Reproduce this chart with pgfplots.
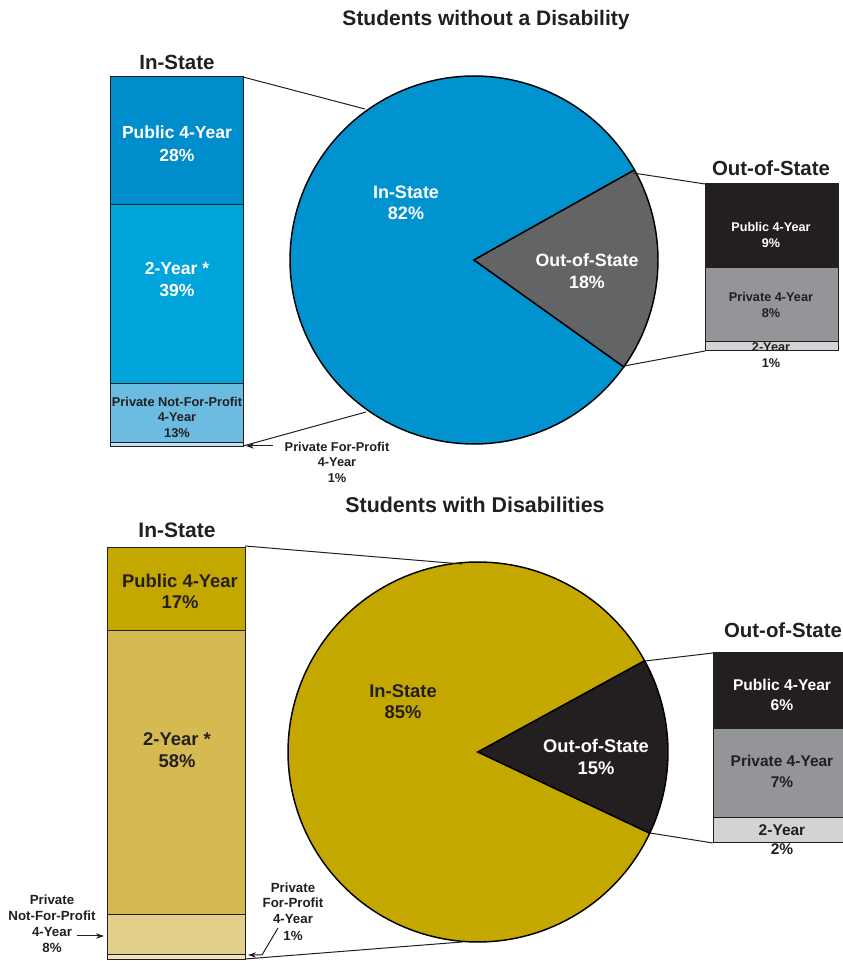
\documentclass[border=0pt]{standalone}
\usepackage{pgfplots}
\pgfplotsset{compat=1.18}
\usepackage{fontspec}
\setmainfont{Liberation Sans}
\usetikzlibrary{arrows.meta}

\definecolor{pieblue}{RGB}{0,147,208}
\definecolor{bpub}{RGB}{0,141,204}
\definecolor{btwo}{RGB}{0,165,219}
\definecolor{bpnfp}{RGB}{108,188,226}
\definecolor{bpfp}{RGB}{190,225,243}
\definecolor{piegray}{RGB}{99,100,102}
\definecolor{dk}{RGB}{35,31,32}
\definecolor{mgray}{RGB}{147,149,152}
\definecolor{lgray}{RGB}{209,211,212}
\definecolor{gold}{RGB}{196,168,0}
\definecolor{gtwo}{RGB}{212,186,80}
\definecolor{gpnfp}{RGB}{226,208,138}
\definecolor{gpfp}{RGB}{240,228,190}

% data (percent)
\def\TopIn{82}\def\TopOut{18}\def\TopStart{-35.5}
\def\BotIn{85}\def\BotOut{15}\def\BotStart{-25.3}

\pgfplotsset{
  barax/.style={scale only axis, hide axis, xmin=0, xmax=1, ymin=0,
    ybar stacked, bar width=1, clip=false},
  pieax/.style={scale only axis, hide axis, xmin=-1, xmax=1, ymin=-1, ymax=1, clip=false},
  seg/.style={fill=#1, draw=dk, line width=0.75pt},
}

\newcommand\lab[5]{%
  \pgfmathsetmacro\fs{0.75*#3}%
  \pgfmathsetmacro\by{961-#2-0.358*#3}%
  \node[anchor=base, inner sep=0pt, text=#4, font=\fontsize{\fs}{\fs}\selectfont\bfseries] at (#1,\by) {#5};}

\begin{document}
\begin{tikzpicture}[x=0.75pt, y=0.75pt]
\useasboundingbox (0,0) rectangle (843,961);
\clip (0,0) rectangle (843,961);

% ---------- TOP: Students without a Disability ----------
\pgfmathsetmacro\aA{\TopStart}
\pgfmathsetmacro\aB{\TopStart+3.6*\TopOut}
\pgfmathsetmacro\aC{\TopStart+360}
\begin{axis}[pieax, width=276pt, height=276pt, at={(217.5pt,387.75pt)}, anchor=south west]
\addplot[fill=pieblue, draw=black, line width=1.1pt, line join=miter, domain=\aB:\aC, samples=150, variable=\t]
  ({cos(\t)},{sin(\t)}) -- (0,0) -- cycle;
\addplot[fill=piegray, draw=black, line width=1.1pt, line join=miter, domain=\aA:\aB, samples=50, variable=\t]
  ({cos(\t)},{sin(\t)}) -- (0,0) -- cycle;
\end{axis}

\begin{axis}[barax, ymax=81, width=99.75pt, height=277.5pt, at={(82.5pt,385.5pt)}, anchor=south west]
\addplot[seg=bpfp] coordinates {(0.5,1)};
\addplot[seg=bpnfp] coordinates {(0.5,13)};
\addplot[seg=btwo] coordinates {(0.5,39)};
\addplot[seg=bpub] coordinates {(0.5,28)};
\end{axis}

\begin{axis}[barax, ymax=18, width=99.75pt, height=125.25pt, at={(528.75pt,457.5pt)}, anchor=south west]
\addplot[seg=lgray] coordinates {(0.5,1)};
\addplot[seg=mgray] coordinates {(0.5,8)};
\addplot[seg=dk] coordinates {(0.5,9)};
\end{axis}

% connectors
\draw[dk, line width=0.75pt] (243,961-77) -- (365,961-109);
\draw[dk, line width=0.75pt] (243,961-446) -- (366,961-412);
\draw[dk, line width=0.75pt] (633,961-173) -- (705,961-184);
\draw[dk, line width=0.75pt] (624,961-366) -- (705,961-351);
\draw[dk, line width=0.75pt, -{Stealth[length=6pt,width=4pt]}] (273,961-446) -- (246,961-446);

\lab{486}{18}{21}{dk}{Students without a Disability}
\lab{177}{62}{20.5}{dk}{In-State}
\lab{771}{168}{20.4}{dk}{Out-of-State}
\lab{177}{132}{17.5}{white}{Public 4-Year}
\lab{177}{155}{17.5}{white}{28\%}
\lab{177}{268}{17.5}{white}{2-Year *}
\lab{177}{290}{17.5}{white}{39\%}
\lab{177}{402}{12.8}{dk}{Private Not-For-Profit}
\lab{177}{417}{12.8}{dk}{4-Year}
\lab{177}{433}{12.8}{dk}{13\%}
\lab{337}{447}{12.8}{dk}{Private For-Profit}
\lab{337}{462}{12.8}{dk}{4-Year}
\lab{337}{478}{12.8}{dk}{1\%}
\lab{406}{192}{18}{white}{In-State}
\lab{406}{213}{18}{white}{82\%}
\lab{587}{260}{17.8}{white}{Out-of-State}
\lab{587}{282}{17.8}{white}{18\%}
\lab{771}{227}{12.6}{white}{Public 4-Year}
\lab{771}{243}{12.6}{white}{9\%}
\lab{771}{297}{12.7}{dk}{Private 4-Year}
\lab{771}{313}{12.7}{dk}{8\%}
\lab{771}{347}{12.7}{dk}{2-Year}
\lab{771}{363}{12.7}{dk}{1\%}

% ---------- BOTTOM: Students with Disabilities ----------
\pgfmathsetmacro\bA{\BotStart}
\pgfmathsetmacro\bB{\BotStart+3.6*\BotOut}
\pgfmathsetmacro\bC{\BotStart+360}
\begin{axis}[pieax, width=285pt, height=285pt, at={(216pt,14.25pt)}, anchor=south west]
\addplot[fill=gold, draw=black, line width=1.1pt, line join=miter, domain=\bB:\bC, samples=150, variable=\t]
  ({cos(\t)},{sin(\t)}) -- (0,0) -- cycle;
\addplot[fill=dk, draw=black, line width=1.1pt, line join=miter, domain=\bA:\bB, samples=50, variable=\t]
  ({cos(\t)},{sin(\t)}) -- (0,0) -- cycle;
\end{axis}

\begin{axis}[barax, ymax=84, width=103.5pt, height=309pt, at={(80.25pt,1.5pt)}, anchor=south west]
\addplot[seg=gpfp] coordinates {(0.5,1)};
\addplot[seg=gpnfp] coordinates {(0.5,8)};
\addplot[seg=gtwo] coordinates {(0.5,58)};
\addplot[seg=gold] coordinates {(0.5,17)};
\end{axis}

\begin{axis}[barax, ymax=15, width=103.5pt, height=143.25pt, at={(534.75pt,88.5pt)}, anchor=south west]
\addplot[seg=lgray] coordinates {(0.5,2)};
\addplot[seg=mgray] coordinates {(0.5,7)};
\addplot[seg=dk] coordinates {(0.5,6)};
\end{axis}

\draw[dk, line width=0.75pt] (245,961-546) -- (462,961-564);
\draw[dk, line width=0.75pt] (245,961-959) -- (462,961-942);
\draw[dk, line width=0.75pt] (645,961-661) -- (713,961-653);
\draw[dk, line width=0.75pt] (650,961-833) -- (713,961-843);
\draw[dk, line width=0.75pt, -{Stealth[length=6pt,width=4pt]}] (77,961-936) -- (104,961-936);
\draw[dk, line width=0.75pt, -{Stealth[length=6pt,width=4pt]}] (278,961-928) -- (262,961-955) -- (248,961-955);

\lab{475}{505}{21.4}{dk}{Students with Disabilities}
\lab{177}{530}{21}{dk}{In-State}
\lab{783}{630}{20.4}{dk}{Out-of-State}
\lab{180}{581}{18.4}{dk}{Public 4-Year}
\lab{180}{602}{18.4}{dk}{17\%}
\lab{177}{739}{18.4}{dk}{2-Year *}
\lab{177}{761}{18.4}{dk}{58\%}
\lab{52}{900}{13.3}{dk}{Private}
\lab{52}{916}{13.3}{dk}{Not-For-Profit}
\lab{52}{932}{13.3}{dk}{4-Year}
\lab{52}{948}{13.3}{dk}{8\%}
\lab{293}{888}{13.3}{dk}{Private}
\lab{293}{903}{13.3}{dk}{For-Profit}
\lab{293}{919}{13.3}{dk}{4-Year}
\lab{293}{936}{13.3}{dk}{1\%}
\lab{403}{691}{18.4}{dk}{In-State}
\lab{403}{712}{18.4}{dk}{85\%}
\lab{596}{746}{18.3}{white}{Out-of-State}
\lab{596}{768}{18.3}{white}{15\%}
\lab{782}{685}{15.6}{white}{Public 4-Year}
\lab{782}{705}{15.6}{white}{6\%}
\lab{782}{761}{15.5}{dk}{Private 4-Year}
\lab{782}{782}{15.5}{dk}{7\%}
\lab{782}{830}{15.5}{dk}{2-Year}
\lab{782}{849}{15.5}{dk}{2\%}
\end{tikzpicture}
\end{document}
